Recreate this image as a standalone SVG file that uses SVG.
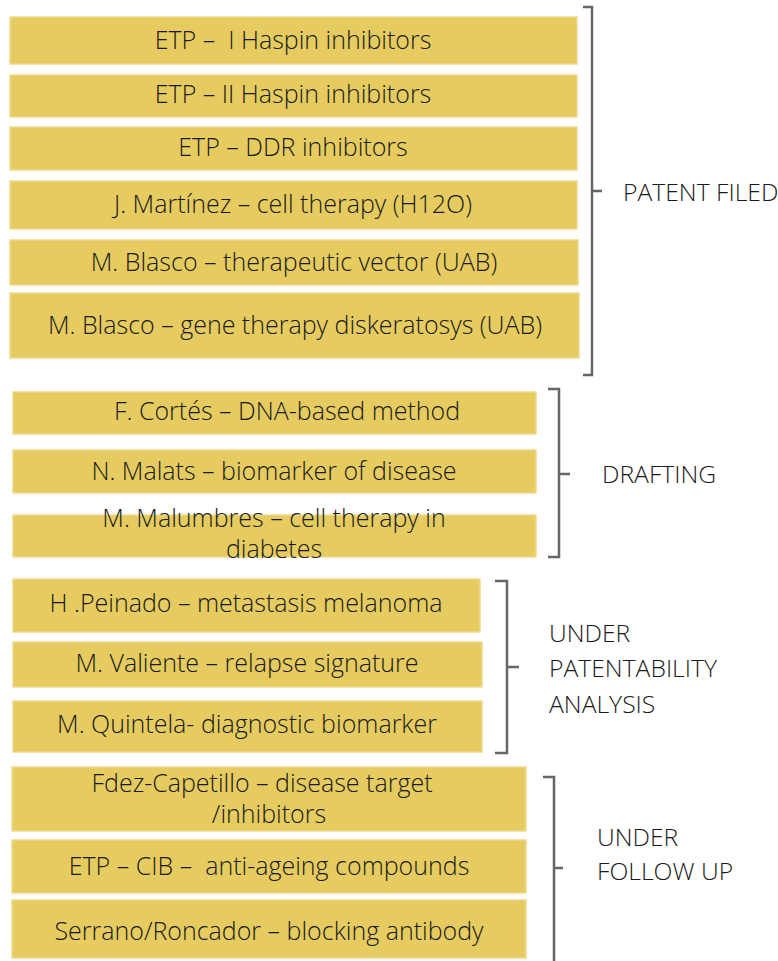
<svg xmlns="http://www.w3.org/2000/svg" width="778" height="961" viewBox="0 0 778 961">
<style>
.box{fill:#E5CB60;stroke:#EFDA8C;stroke-width:1.5}
.t{font-family:"Open Sans","Liberation Sans",sans-serif;font-weight:300;font-size:25px;fill:#1a1a1a;text-anchor:middle}
.l{font-family:"Open Sans","Liberation Sans",sans-serif;font-weight:300;font-size:24.7px;fill:#1a1a1a}
.br{fill:none;stroke:#666;stroke-width:2.5}
</style>
<rect width="778" height="961" fill="#fff"/>
<g id="n1"><rect class="box" x="10" y="17" width="567" height="47"/><text class="t" x="293" y="49" xml:space="preserve">ETP –  I Haspin inhibitors</text></g>
<g id="n2"><rect class="box" x="10" y="75" width="567" height="42"/><text class="t" x="293" y="103">ETP – II Haspin inhibitors</text></g>
<g id="n3"><rect class="box" x="10" y="127" width="567" height="43"/><text class="t" x="293" y="156">ETP – DDR inhibitors</text></g>
<g id="n4"><rect class="box" x="10" y="181" width="567" height="48"/><text class="t" x="293" y="213">J. Martínez – cell therapy (H12O)</text></g>
<g id="n5"><rect class="box" x="10" y="240" width="568" height="45"/><text class="t" x="294" y="271">M. Blasco – therapeutic vector (UAB)</text></g>
<g id="n6"><rect class="box" x="10" y="293" width="569" height="65"/><text class="t" x="295" y="334">M. Blasco – gene therapy diskeratosys (UAB)</text></g>
<g id="n7"><rect class="box" x="13" y="392" width="523" height="42"/><text class="t" x="287" y="420">F. Cortés – DNA-based method</text></g>
<g id="n8"><rect class="box" x="13" y="450" width="523" height="43"/><text class="t" x="274" y="480">N. Malats – biomarker of disease</text></g>
<g id="n9"><rect class="box" x="13" y="515" width="523" height="42"/><text class="t" x="274" y="527">M. Malumbres – cell therapy in</text><text class="t" x="274" y="558">diabetes</text></g>
<g id="n10"><rect class="box" x="13" y="579" width="467" height="53"/><text class="t" x="246" y="612">H .Peinado – metastasis melanoma</text></g>
<g id="n11"><rect class="box" x="13" y="642" width="469" height="45"/><text class="t" x="247" y="672">M. Valiente – relapse signature</text></g>
<g id="n12"><rect class="box" x="13" y="701" width="469" height="51"/><text class="t" x="247" y="733">M. Quintela- diagnostic biomarker</text></g>
<g id="n13"><rect class="box" x="12" y="767" width="514" height="64"/><text class="t" x="262" y="792">Fdez-Capetillo – disease target</text><text class="t" x="269" y="823">/inhibitors</text></g>
<g id="n14"><rect class="box" x="12" y="840" width="514" height="53"/><text class="t" x="269" y="875" xml:space="preserve">ETP – CIB –  anti-ageing compounds</text></g>
<g id="n15"><rect class="box" x="12" y="900" width="514" height="58"/><text class="t" x="269" y="940">Serrano/Roncador – blocking antibody</text></g>
<g id="connectors">
<path class="br" d="M583 7H592V375H583M592 191H602"/>
<path class="br" d="M548 389H559V557H548M559 474H570"/>
<path class="br" d="M495 581H507V753H495M507 667H519"/>
<path class="br" d="M543 777H554V966M554 868H563"/>
</g>
<g id="labels">
<text class="l" x="623" y="201">PATENT FILED</text>
<text class="l" x="602" y="483">DRAFTING</text>
<text class="l" x="549" y="642">UNDER</text>
<text class="l" x="549" y="677">PATENTABILITY</text>
<text class="l" x="549" y="713">ANALYSIS</text>
<text class="l" x="597" y="846">UNDER</text>
<text class="l" x="597" y="880">FOLLOW UP</text>
</g>
</svg>
